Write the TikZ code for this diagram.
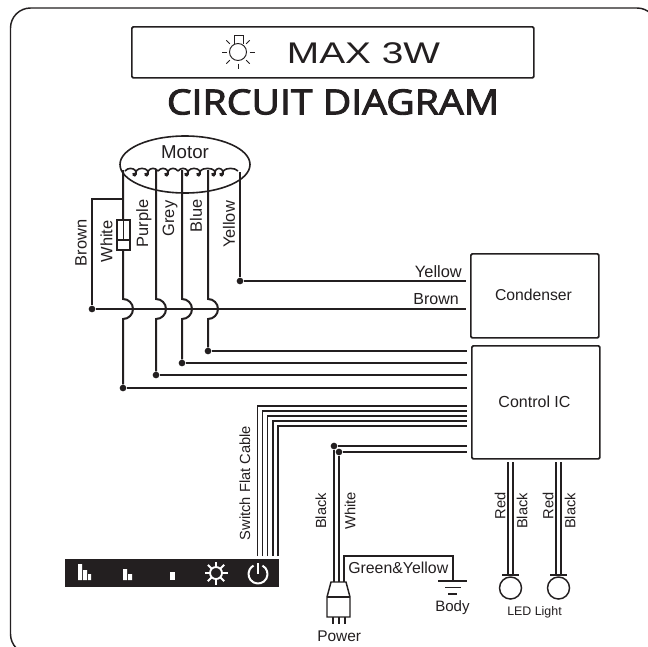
\documentclass[tikz,border=0pt]{standalone}
\usepackage{fontspec}
\setmainfont{Liberation Sans}
\newfontfamily\titlefont[FakeBold=2.6]{Open Sans}
\usetikzlibrary{calc,shapes.geometric}
\definecolor{ink}{HTML}{231F20}
\tikzset{
  wire/.style={draw=ink,line width=1.5pt},
  thin wire/.style={draw=ink,line width=1.2pt},
  box/.style={draw=ink,line width=1.3pt,rounded corners=1pt},
  lbl/.style={text=ink,font=\fontsize{11}{13}\selectfont,inner sep=0pt},
  biglbl/.style={text=ink,font=\fontsize{12.3}{14}\selectfont,inner sep=0pt},
  dotn/.style={circle,fill=ink,inner sep=0pt,minimum size=5pt},
}
\begin{document}
\begin{tikzpicture}[x=0.75pt,y=-0.75pt]
\useasboundingbox (0,0) rectangle (648,646);
\fill[white] (0,0) rectangle (648,646);
% frame
\begin{scope}
\clip (0,0) rectangle (648,646);
\draw[ink,line width=1.1pt,rounded corners=15pt] (10.5,8) rectangle (657,654);
\end{scope}
% header
\node[box,minimum width=402pt*0.75,minimum height=51pt*0.75,anchor=north west,inner sep=0pt] (hdr) at (131,26) {};
\node[text=ink,inner sep=0pt,xscale=1.3,font=\fontsize{22.4}{24}\selectfont] (max) at (363.5,53) {MAX 3W};
\coordinate (bulb) at (238,52);
\draw[ink,line width=.7pt] (bulb) circle[radius=8.5];
\draw[ink,line width=.7pt] (234,44) -- (234,35.5) -- (243,35.5) -- (243,44);
\foreach \a in {0,45,90,135,180,225,315}
  \draw[ink,line width=.7pt] ($(bulb)+(\a:11.5)$) -- ($(bulb)+(\a:16.5)$);
\node[text=ink,inner sep=0pt,xscale=1.13,font=\titlefont\fontsize{26}{30}\selectfont] (title) at (333,102) {CIRCUIT DIAGRAM};
% motor
\node[draw=ink,line width=1.2pt,ellipse,minimum width=130pt*0.75,minimum height=57pt*0.75,inner sep=0pt] (motor) at (185,164.5) {};
\node[lbl,font=\fontsize{14}{16}\selectfont] (motorlbl) at (185,152) {Motor};
% boxes
\node[box,anchor=north west,minimum width=128pt*.75,minimum height=84pt*.75,inner sep=0pt] (cond) at (470,253) {};
\node[biglbl,font=\fontsize{11.8}{14}\selectfont] at (533.5,295) {Condenser};
\node[box,anchor=north west,minimum width=128pt*.75,minimum height=113pt*.75,inner sep=0pt] (ic) at (471,345) {};
\node[biglbl,font=\fontsize{12}{14}\selectfont] at (534.5,402) {Control IC};
% coil
\foreach \p/\q in {125/136,136/148,148/158,158/168,168/178,178/188,188/200,200/215,215/223,223/238}
  \draw[ink,line width=1.2pt] (\p,171) .. controls (\p+3,167.5) and (\q-3,167.5) .. (\q,171);
\foreach \q in {136,148,168,188,200,215,223}
  \draw[ink,line width=1.6pt] (\q,171) .. controls (\q+.5,176.5) and (\q-3,176.5) .. (\q-2.5,173);
% dots
\foreach \n/\x/\y in {dy/240/281,db/92/309,d1/208/351,d2/182/363,d3/156/375,d4/123/388,dk/334/446,dw/339/452}
  \node[dotn] (\n) at (\x,\y) {};
% motor wires
\coordinate (ycond) at (466,281);
\coordinate (bcond) at (466,309);
\draw[wire] (240,172) -- (dy) -- (ycond);
\draw[wire] (db) -- (bcond);
\draw[wire] (123,170) -- (123,299) arc[start angle=-90,end angle=90,radius=10] -- (d4) ;
\draw[wire] (156,170) -- (156,299) arc[start angle=-90,end angle=90,radius=10] -- (d3);
\draw[wire] (182,170) -- (182,299) arc[start angle=-90,end angle=90,radius=10] -- (d2);
\draw[wire] (208,170) -- (208,299) arc[start angle=-90,end angle=90,radius=10] -- (d1);
\draw[wire] (123,199) -- (92,199) -- (db);
\node[draw=ink,line width=1.1pt,fill=white,minimum width=13pt*.75,minimum height=30pt*.75,inner sep=0pt] (fuse) at (123.5,235) {};
\draw[ink,line width=1.1pt] (117,240) -- (130,240);
\draw[ink,line width=1.1pt] (123.5,220) -- (123.5,240);
\foreach \n/\y in {d1/351,d2/363,d3/375,d4/388}
  \draw[wire] (\n) -- (467,\y);
% labels on wires
\node[biglbl,rotate=90] at (81,243) {Brown};
\node[biglbl,rotate=90] at (106.5,241.5) {White};
\node[biglbl,rotate=90] at (144,223.5) {Purple};
\node[biglbl,rotate=90] at (170,218.5) {Grey};
\node[biglbl,rotate=90] at (196,216) {Blue};
\node[biglbl,rotate=90] at (229,224.5) {Yellow};
\node[biglbl,anchor=east] at (462,272) {Yellow};
\node[biglbl,font=\fontsize{12}{14}\selectfont,anchor=east] at (459,299) {Brown};
% flat cable
\foreach \x/\y in {257.3/406,262.3/411,267.3/416,272.7/421,277.7/426}
  \draw[thin wire] (\x,556) -- (\x,\y) -- (467,\y);
\node[lbl,rotate=90] at (245,483) {Switch Flat Cable};
% switch panel
\node[fill=ink,anchor=north west,minimum width=214pt*.75,minimum height=28pt*.75,inner sep=0pt] (panel) at (65,559) {};
\fill[white] (78,564) rectangle (82,580) (83,570) rectangle (87,580) (88,574) rectangle (91,580);
\fill[white] (123,569) rectangle (127,580) (128,574) rectangle (132,580);
\fill[white] (170,572) rectangle (175,580);
\coordinate (sun) at (216,573);
\draw[white,line width=1.4pt] (sun) circle[radius=6];
\foreach \a in {0,45,...,315}
  \draw[white,line width=1.5pt] ($(sun)+(\a:6)$) -- ($(sun)+(\a:11.5)$);
\coordinate (pw) at (258,574);
\draw[white,line width=1.5pt] (pw) ++(-62:9.5) arc[start angle=-62,end angle=242,radius=9.5];
\draw[white,line width=1.5pt] (258,563) -- (258,574);
% mains
\draw[wire] (dk) -- (467,446);
\draw[wire] (dw) -- (467,452);
\draw[thin wire] (dk) -- (334,582);
\draw[thin wire] (dw) -- (339,582);
\node[lbl,rotate=90] at (321,511) {Black};
\node[lbl,rotate=90] at (350,511) {White};
\draw[thin wire] (344,582) -- (344,556) -- (453,556) -- (453,581);
\node[biglbl,font=\fontsize{11.9}{14}\selectfont,anchor=west] at (348,568) {Green\&Yellow};
\draw[ink,line width=1.1pt] (438,581) -- (467,581) (445,587.5) -- (461,587.5) (448,594) -- (457,594);
\node[lbl,font=\fontsize{11.3}{13}\selectfont,anchor=west] at (435,608) {Body};
% plug
\draw[ink,line width=1.1pt,fill=white] (331,582) -- (346,582) -- (350,597) -- (350,617) -- (327,617) -- (327,597) -- cycle;
\draw[ink,line width=1.1pt] (327,597) -- (350,597);
\draw[ink,line width=1.1pt] (333,617) -- (333,624) (339,617) -- (339,624) (345,617) -- (345,624);
\node[lbl,font=\fontsize{11.6}{13}\selectfont,anchor=west] at (317,636) {Power};
% LEDs
\foreach \a/\b/\c in {508/513/510.5,556/561/558.5} {
  \draw[thin wire] (\a,462) -- (\a,575);
  \draw[thin wire] (\b,462) -- (\b,575);
  \draw[ink,line width=1.1pt] (\c-8.5,575) -- (\c+8.5,575);
  \draw[ink,line width=1.1pt] (\c,588) circle[radius=11];
}
\node[lbl,rotate=90] at (500,506) {Red};
\node[lbl,rotate=90] at (522,511) {Black};
\node[lbl,rotate=90] at (548,506) {Red};
\node[lbl,rotate=90] at (570,511) {Black};
\node[lbl,font=\fontsize{9.3}{11}\selectfont] at (534.5,612) {LED Light};
\end{tikzpicture}
\end{document}
